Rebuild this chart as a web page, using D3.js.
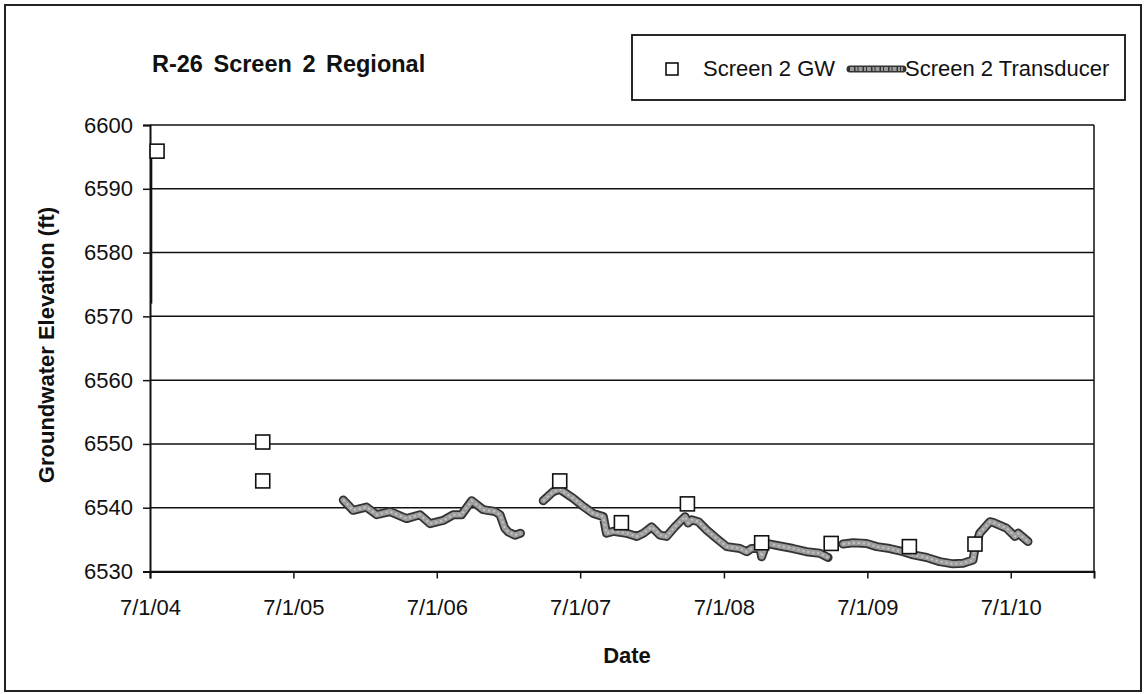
<!DOCTYPE html>
<html>
<head>
<meta charset="utf-8">
<script src="https://cdn.jsdelivr.net/npm/d3@7/dist/d3.min.js"></script>
<style>
  html, body { margin: 0; padding: 0; background: #fff; }
  svg { display: block; font-family: Arial, "Liberation Sans", sans-serif; }
</style>
</head>
<body>
<svg id="chart" width="1146" height="694"></svg>
<script>
// ---------------- data ----------------
const chartTitle = "R-26 Screen 2 Regional";
const xAxisTitle = "Date";
const yAxisTitle = "Groundwater Elevation (ft)";
const legendLabels = ["Screen 2 GW", "Screen 2 Transducer"];

const yTicks = [6530, 6540, 6550, 6560, 6570, 6580, 6590, 6600];
const xTickDates = ["2004-07-01", "2005-07-01", "2006-07-01", "2007-07-01", "2008-07-01", "2009-07-01", "2010-07-01"];
const xDomain = ["2004-07-01", "2011-01-29"];
const yDomain = [6530, 6600];

// Screen 2 GW (manual measurements, square markers)
const gwDates = ["2004-07-19", "2005-04-14", "2005-04-14", "2007-05-10", "2007-10-14", "2008-03-30",
                 "2008-10-05", "2009-03-31", "2009-10-16", "2010-04-01"];
const gwValues = [6595.9, 6550.3, 6544.2, 6544.2, 6537.65, 6540.6, 6534.5, 6534.4, 6533.9, 6534.3];

// thin trace at the very start of the record
const earlyDates = ["2004-07-05", "2004-07-05"];
const earlyValues = [6595.5, 6572.0];

// Screen 2 Transducer, three separate deployments
const trA_dates = ["2005-11-05", "2005-11-30", "2006-01-03", "2006-01-29", "2006-03-04", "2006-04-15",
                   "2006-05-19", "2006-06-14", "2006-07-17", "2006-08-12", "2006-09-02", "2006-09-28",
                   "2006-10-27", "2006-11-26", "2006-12-09", "2006-12-21", "2006-12-30", "2007-01-16", "2007-01-30"];
const trA_values = [6541.2, 6539.6, 6540.1, 6538.9, 6539.4, 6538.3,
                    6538.9, 6537.5, 6538.0, 6538.9, 6538.9, 6541.1,
                    6539.7, 6539.4, 6538.9, 6536.8, 6536.2, 6535.7, 6536.0];

const trB_dates = ["2007-03-29", "2007-04-23", "2007-05-10", "2007-06-13", "2007-07-09", "2007-08-03",
                   "2007-08-29", "2007-09-06", "2007-09-23", "2007-10-27", "2007-11-22", "2007-12-09",
                   "2007-12-30", "2008-01-20", "2008-02-06", "2008-02-27", "2008-03-24", "2008-04-01",
                   "2008-04-10", "2008-04-27", "2008-05-18", "2008-06-12", "2008-07-08", "2008-08-11",
                   "2008-08-28", "2008-09-09", "2008-10-01", "2008-10-05", "2008-10-17", "2008-11-20",
                   "2008-12-24", "2009-01-27", "2009-03-02", "2009-03-23"];
const trB_values = [6541.1, 6542.5, 6542.9, 6541.5, 6540.2, 6539.1,
                    6538.6, 6536.0, 6536.3, 6536.0, 6535.5, 6536.0,
                    6537.0, 6535.7, 6535.5, 6537.0, 6538.6, 6537.6,
                    6538.1, 6537.8, 6536.5, 6535.2, 6533.9, 6533.6,
                    6533.1, 6533.6, 6533.6, 6532.3, 6534.4, 6534.0,
                    6533.6, 6533.1, 6532.85, 6532.2];

const trC_dates = ["2009-04-30", "2009-05-26", "2009-06-29", "2009-07-25", "2009-08-27", "2009-09-30",
                   "2009-10-26", "2009-11-29", "2010-01-01", "2010-02-04", "2010-03-02", "2010-03-27",
                   "2010-04-01", "2010-04-13", "2010-05-09", "2010-05-17", "2010-06-20", "2010-07-12",
                   "2010-07-20", "2010-08-14"];
const trC_values = [6534.3, 6534.5, 6534.4, 6533.9, 6533.6, 6533.1,
                    6532.6, 6532.2, 6531.55, 6531.2, 6531.3, 6531.8,
                    6533.6, 6536.0, 6537.8, 6537.7, 6536.8, 6535.5,
                    6536.0, 6534.7];

// ---------------- drawing ----------------
const parse = d3.timeParse("%Y-%m-%d");
const fmt = d3.timeFormat("%-m/%-d/%y");
const zip = (ds, vs) => ds.map((d, i) => ({ date: parse(d), value: vs[i] }));

const svg = d3.select("#chart");
const margin = { left: 150, right: 1094, top: 125, bottom: 571.5 };

const x = d3.scaleTime().domain(xDomain.map(parse)).range([margin.left, margin.right]);
const y = d3.scaleLinear().domain(yDomain).range([margin.bottom, margin.top]);

// outer border
svg.append("rect").attr("x", 5).attr("y", 5).attr("width", 1136).attr("height", 686)
  .attr("fill", "none").attr("stroke", "#222").attr("stroke-width", 2);

// gridlines
svg.append("g").selectAll("line").data(yTicks).join("line")
  .attr("x1", margin.left).attr("x2", margin.right)
  .attr("y1", d => y(d)).attr("y2", d => y(d))
  .attr("stroke", "#111").attr("stroke-width", 1.5);

// right border of plot
svg.append("line").attr("x1", margin.right).attr("x2", margin.right)
  .attr("y1", margin.top).attr("y2", margin.bottom)
  .attr("stroke", "#111").attr("stroke-width", 1.5);

// y axis
const yAxis = svg.append("g").attr("transform", `translate(${margin.left},0)`)
  .call(d3.axisLeft(y).tickValues(yTicks).tickSize(7).tickPadding(10).tickFormat(d3.format("d")));
yAxis.select(".domain").attr("stroke", "#111").attr("stroke-width", 2);
yAxis.selectAll(".tick line").attr("stroke", "#111").attr("stroke-width", 1.5);
yAxis.selectAll("text").attr("font-size", 22).attr("fill", "#111")
  .attr("font-family", "Arial, 'Liberation Sans', sans-serif");

// x axis
const xAxis = svg.append("g").attr("transform", `translate(0,${margin.bottom})`)
  .call(d3.axisBottom(x).tickValues(xTickDates.map(parse)).tickSize(7).tickPadding(21).tickFormat(fmt));
xAxis.select(".domain").attr("stroke", "#111").attr("stroke-width", 2);
xAxis.selectAll(".tick line").attr("stroke", "#111").attr("stroke-width", 1.5);
xAxis.selectAll("text").attr("font-size", 22).attr("fill", "#111")
  .attr("font-family", "Arial, 'Liberation Sans', sans-serif");

// early thin trace
const line = d3.line().x(d => x(d.date)).y(d => y(d.value)).curve(d3.curveLinear);
svg.append("path").datum(zip(earlyDates, earlyValues)).attr("d", line)
  .attr("fill", "none").attr("stroke", "#111").attr("stroke-width", 1.5);

// transducer rope
function rope(g, data) {
  g.append("path").datum(data).attr("d", line)
    .attr("fill", "none").attr("stroke", "#333").attr("stroke-width", 9)
    .attr("stroke-linejoin", "round").attr("stroke-linecap", "round");
  g.append("path").datum(data).attr("d", line)
    .attr("fill", "none").attr("stroke", "#9c9c9c").attr("stroke-width", 5.5)
    .attr("stroke-dasharray", "4,1.5,2,1")
    .attr("stroke-linejoin", "round").attr("stroke-linecap", "round");
  g.append("path").datum(data).attr("d", line)
    .attr("fill", "none").attr("stroke", "#c4c4c4").attr("stroke-width", 2)
    .attr("stroke-dasharray", "2,3")
    .attr("stroke-linejoin", "round");
}
const trG = svg.append("g");
[zip(trA_dates, trA_values), zip(trB_dates, trB_values), zip(trC_dates, trC_values)]
  .forEach(s => rope(trG, s));

// GW squares
const sq = 14;
svg.append("g").selectAll("rect").data(zip(gwDates, gwValues)).join("rect")
  .attr("x", d => x(d.date) - sq / 2).attr("y", d => y(d.value) - sq / 2)
  .attr("width", sq).attr("height", sq)
  .attr("fill", "#fff").attr("stroke", "#111").attr("stroke-width", 1.6);

// title
svg.append("text").attr("x", 152).attr("y", 72).text(chartTitle)
  .attr("font-size", 23.5).attr("font-weight", "bold").attr("fill", "#111")
  .attr("word-spacing", 4);

// axis titles
svg.append("text").attr("x", 627).attr("y", 663).attr("text-anchor", "middle").text(xAxisTitle)
  .attr("font-size", 22).attr("font-weight", "bold").attr("fill", "#111");
svg.append("text").attr("transform", "translate(54,345) rotate(-90)").attr("text-anchor", "middle")
  .text(yAxisTitle).attr("font-size", 22).attr("font-weight", "bold").attr("fill", "#111");

// legend
const lg = svg.append("g");
lg.append("rect").attr("x", 632).attr("y", 35).attr("width", 493).attr("height", 65)
  .attr("fill", "#fff").attr("stroke", "#111").attr("stroke-width", 1.8);
lg.append("rect").attr("x", 666).attr("y", 63).attr("width", 12).attr("height", 12)
  .attr("fill", "#fff").attr("stroke", "#111").attr("stroke-width", 1.6);
lg.append("text").attr("x", 703).attr("y", 76).text(legendLabels[0])
  .attr("font-size", 22).attr("fill", "#111");
const lgX = [850, 903];
lg.append("line").attr("x1", lgX[0]).attr("x2", lgX[1]).attr("y1", 69).attr("y2", 69)
  .attr("stroke", "#333").attr("stroke-width", 7).attr("stroke-linecap", "round");
lg.append("line").attr("x1", lgX[0]).attr("x2", lgX[1]).attr("y1", 69).attr("y2", 69)
  .attr("stroke", "#9c9c9c").attr("stroke-width", 4).attr("stroke-dasharray", "4,1.5,2,1");
lg.append("text").attr("x", 905).attr("y", 76).text(legendLabels[1])
  .attr("font-size", 22).attr("fill", "#111");
</script>
</body>
</html>
